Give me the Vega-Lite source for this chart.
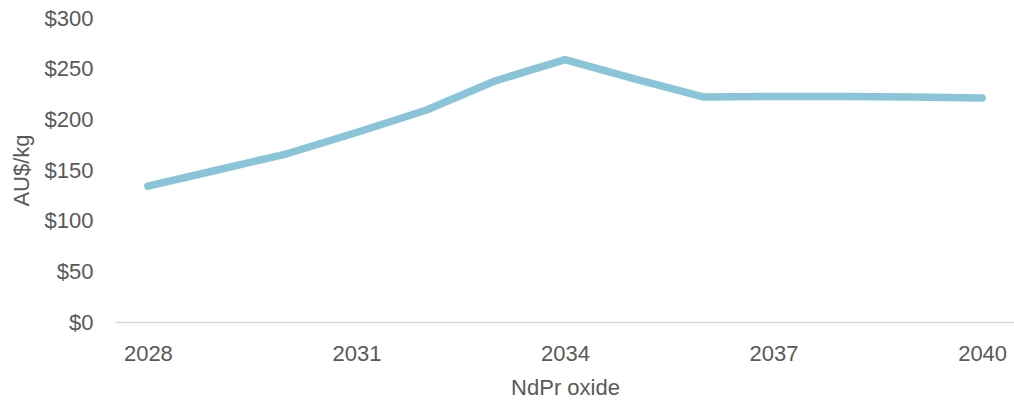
{
  "$schema": "https://vega.github.io/schema/vega-lite/v6.json",
  "width": 900,
  "height": 304,
  "autosize": {"type": "none"},
  "padding": {"left": 115, "top": 18, "right": 0, "bottom": 83},
  "background": "white",
  "config": {
    "view": {"stroke": null},
    "font": "Liberation Sans"
  },
  "data": {
    "values": [
      {"year": 2028, "price": 134},
      {"year": 2029, "price": 150},
      {"year": 2030, "price": 166},
      {"year": 2031, "price": 187},
      {"year": 2032, "price": 209},
      {"year": 2033, "price": 238},
      {"year": 2034, "price": 259},
      {"year": 2035, "price": 240},
      {"year": 2036, "price": 222},
      {"year": 2037, "price": 222.5},
      {"year": 2038, "price": 222.5},
      {"year": 2039, "price": 222},
      {"year": 2040, "price": 221}
    ]
  },
  "mark": {"type": "line", "color": "#89C4D9", "strokeWidth": 7.5, "strokeCap": "round", "strokeJoin": "round"},
  "encoding": {
    "x": {
      "field": "year",
      "type": "quantitative",
      "scale": {"domain": [2027.527, 2040.473], "nice": false, "zero": false},
      "axis": {
        "values": [2028, 2031, 2034, 2037, 2040],
        "format": "d",
        "grid": false,
        "ticks": false,
        "domainColor": "#D9D9D9",
        "domainWidth": 1.5,
        "labelFontSize": 22,
        "labelColor": "#595959",
        "labelPadding": 21,
        "title": "NdPr oxide",
        "titleFontSize": 22,
        "titleFontWeight": "normal",
        "titleColor": "#595959",
        "titlePadding": 13
      }
    },
    "y": {
      "field": "price",
      "type": "quantitative",
      "scale": {"domain": [0, 300], "nice": false},
      "axis": {
        "values": [0, 50, 100, 150, 200, 250, 300],
        "labelExpr": "'$' + datum.value",
        "grid": false,
        "ticks": false,
        "domain": false,
        "labelFontSize": 22,
        "labelColor": "#595959",
        "labelPadding": 22,
        "title": "AU$/kg",
        "titleFontSize": 22,
        "titleFontWeight": "normal",
        "titleColor": "#595959",
        "titlePadding": 11
      }
    }
  }
}
